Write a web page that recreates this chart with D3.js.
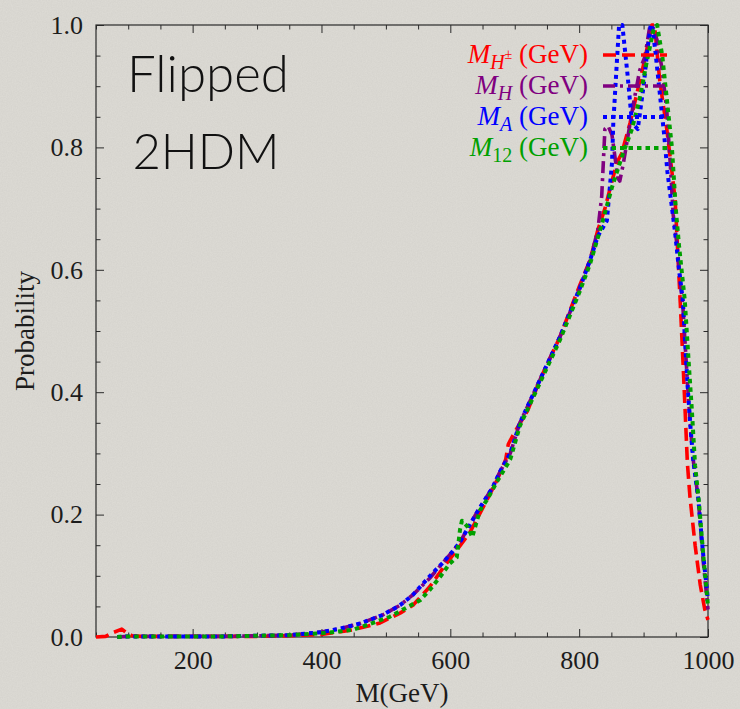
<!DOCTYPE html>
<html><head><meta charset="utf-8">
<script src="https://cdn.jsdelivr.net/npm/d3@7"></script>
<style>html,body{margin:0;padding:0;background:#dcdad4;}svg{display:block;}</style>
</head><body>
<svg id="chart" width="740" height="709"></svg>
<script>
// ---------- data (M in GeV, probability) ----------
const redSeries = [[50,0],[65,0.001],[75,0.0065],[90,0.013],[96,0.008],[106,0.002],[120,0.001],[200,0.001],[300,0.001],[350,0.002],[400,0.004],[450,0.012],[491,0.023],[522,0.039],[542,0.052],[568,0.082],[589,0.113],[610,0.142],[630,0.17],[650,0.21],[672,0.255],[686,0.29],[690,0.315],[700,0.335],[720,0.37],[739,0.42],[770,0.49],[790,0.545],[801,0.575],[817,0.616],[829,0.665],[840,0.70],[851,0.745],[859,0.776],[866,0.79],[879,0.84],[890,0.89],[900,0.935],[913,1.0],[917,1.0],[925,0.91],[936,0.83],[944,0.76],[949,0.714],[953,0.63],[957,0.545],[962,0.43],[968,0.284],[972,0.229],[980,0.15],[988,0.085],[995,0.045],[1000,0.028]];
const purpleSeries = [[83,0],[100,0.001],[150,0.001],[200,0.001],[250,0.001],[300,0.002],[350,0.003],[400,0.008],[430,0.014],[460,0.022],[495,0.036],[522,0.052],[542,0.069],[568,0.096],[589,0.122],[603,0.139],[615,0.155],[641,0.203],[666,0.245],[677,0.27],[693,0.30],[708,0.35],[739,0.42],[770,0.49],[801,0.57],[817,0.616],[829,0.665],[835,0.72],[840,0.83],[845,0.835],[851,0.82],[860,0.75],[863,0.745],[868,0.77],[884,0.87],[894,0.926],[902,0.948],[910,1.0],[915,0.995],[921,0.975],[929,0.926],[936,0.86],[941,0.78],[946,0.69],[952,0.64],[957,0.58],[961,0.54],[965,0.47],[969,0.40],[973,0.34],[977,0.29],[985,0.225],[992,0.13],[1000,0.045]];
const blueSeries = [[83,0],[100,0.001],[150,0.001],[200,0.001],[250,0.001],[300,0.002],[350,0.003],[400,0.008],[430,0.014],[460,0.022],[495,0.036],[522,0.052],[542,0.069],[573,0.105],[589,0.122],[603,0.139],[615,0.155],[641,0.203],[666,0.245],[677,0.27],[693,0.30],[708,0.35],[739,0.42],[770,0.49],[801,0.57],[817,0.616],[829,0.655],[843,0.68],[851,0.775],[853,0.84],[858,0.93],[862,1.0],[867,1.0],[875,0.92],[882,0.84],[891,0.83],[900,0.9],[906,0.96],[911,1.0],[913,1.0],[918,0.96],[922,0.92],[927,0.87],[932,0.82],[937,0.76],[943,0.71],[949,0.66],[955,0.60],[961,0.55],[965,0.47],[969,0.40],[973,0.34],[977,0.29],[985,0.225],[992,0.14],[1000,0.06]];
const greenSeries = [[83,0],[100,0.001],[150,0.001],[200,0.001],[250,0.001],[300,0.002],[350,0.003],[400,0.006],[450,0.012],[506,0.033],[553,0.06],[568,0.077],[584,0.098],[599,0.12],[610,0.13],[615,0.175],[618,0.19],[627,0.18],[634,0.163],[646,0.207],[657,0.224],[672,0.253],[693,0.29],[708,0.345],[739,0.415],[770,0.485],[801,0.565],[817,0.61],[834,0.67],[851,0.735],[868,0.79],[882,0.83],[894,0.88],[905,0.94],[915,0.99],[921,1.0],[929,0.95],[937,0.87],[941,0.83],[944,0.80],[950,0.70],[955,0.64],[960,0.59],[964,0.55],[970,0.45],[975,0.37],[980,0.28],[986,0.22],[993,0.13],[1000,0.05]];

const seriesNames = ["H\u00b1", "H", "A", "12"];
const seriesColors = ["#ff0000", "#800080", "#0000ff", "#00a000"];
const xMajorTicks = [200, 400, 600, 800, 1000];
const yMajorTicks = [0, 0.2, 0.4, 0.6, 0.8, 1.0];
const xMinorStep = 50;
const yMinorStep = 0.05;
const titleLines = ["Flipped", "2HDM"];
const xTitle = "M(GeV)";
const yTitle = "Probability";

// ---------- layout ----------
const W = 740, H = 709;
const plot = {left: 96, right: 708, top: 25, bottom: 637};
const svg = d3.select("#chart");

const x = d3.scaleLinear().domain([50, 1000]).range([plot.left, plot.right]);
const y = d3.scaleLinear().domain([0, 1]).range([plot.bottom, plot.top]);

// background with subtle paper texture
const defs = svg.append("defs");
const f = defs.append("filter").attr("id", "paper").attr("x", 0).attr("y", 0).attr("width", 1).attr("height", 1);
f.append("feTurbulence").attr("type", "fractalNoise").attr("baseFrequency", 0.8).attr("numOctaves", 2).attr("seed", 4);
f.append("feColorMatrix").attr("type", "matrix")
  .attr("values", "0 0 0 0 0.35  0 0 0 0 0.34  0 0 0 0 0.32  0.16 0 0 0 0");
defs.append("clipPath").attr("id", "clip").append("rect")
  .attr("x", plot.left - 2).attr("y", plot.top - 3)
  .attr("width", plot.right - plot.left + 4).attr("height", plot.bottom - plot.top + 6);

svg.append("rect").attr("width", W).attr("height", H).attr("fill", "#dedcd6");
svg.append("rect").attr("width", W).attr("height", H).attr("filter", "url(#paper)");

// ---------- frame & ticks ----------
const frameColor = "#2a2a2a";
const axes = svg.append("g");
const xMinor = d3.range(50, 1000.1, xMinorStep).filter(v => !xMajorTicks.includes(v));
const yMinor = d3.range(0, 1.0001, yMinorStep).map(v => +v.toFixed(2)).filter(v => !yMajorTicks.some(t => Math.abs(t - v) < 1e-6));

const xAxisB = d3.axisBottom(x).tickValues(xMajorTicks).tickSize(-8).tickPadding(14).tickFormat(d3.format("d"));
axes.append("g").attr("transform", `translate(0,${plot.bottom})`).call(xAxisB);
axes.append("g").attr("transform", `translate(0,${plot.top})`)
  .call(d3.axisTop(x).tickValues(xMajorTicks).tickSize(-8).tickFormat(""));
axes.append("g").attr("transform", `translate(0,${plot.bottom})`)
  .call(d3.axisBottom(x).tickValues(xMinor).tickSize(-4.5).tickFormat(""));
axes.append("g").attr("transform", `translate(0,${plot.top})`)
  .call(d3.axisTop(x).tickValues(xMinor).tickSize(-4.5).tickFormat(""));

const yAxisL = d3.axisLeft(y).tickValues(yMajorTicks).tickSize(-8).tickPadding(13).tickFormat(d3.format(".1f"));
axes.append("g").attr("transform", `translate(${plot.left},0)`).call(yAxisL);
axes.append("g").attr("transform", `translate(${plot.right},0)`)
  .call(d3.axisRight(y).tickValues(yMajorTicks).tickSize(-8).tickFormat(""));
axes.append("g").attr("transform", `translate(${plot.left},0)`)
  .call(d3.axisLeft(y).tickValues(yMinor).tickSize(-4.5).tickFormat(""));
axes.append("g").attr("transform", `translate(${plot.right},0)`)
  .call(d3.axisRight(y).tickValues(yMinor).tickSize(-4.5).tickFormat(""));

axes.selectAll(".domain").remove();
axes.selectAll(".tick line").attr("stroke", frameColor).attr("stroke-width", 1);
axes.selectAll(".tick text")
  .attr("fill", "#1c1c1c").attr("font-family", "'Liberation Serif', 'DejaVu Serif', serif").attr("font-size", 26);

svg.append("rect").attr("x", plot.left).attr("y", plot.top)
  .attr("width", plot.right - plot.left).attr("height", plot.bottom - plot.top)
  .attr("fill", "none").attr("stroke", frameColor).attr("stroke-width", 1.2);

// ---------- curves ----------
const line = d3.line().x(d => x(d[0])).y(d => y(d[1])).curve(d3.curveLinear);
const seriesData = [redSeries, purpleSeries, blueSeries, greenSeries];
const dashes = ["13,6", "12,5,3,5", "4,4", "4.5,4"];
const widths = [3.6, 3.6, 4, 4];
const curves = svg.append("g").attr("clip-path", "url(#clip)");
seriesData.forEach((s, i) => {
  curves.append("path").datum(s).attr("d", line)
    .attr("fill", "none").attr("stroke", seriesColors[i])
    .attr("stroke-width", widths[i]).attr("stroke-dasharray", dashes[i])
    .attr("stroke-linejoin", "round");
});

// ---------- legend ----------
const legendY = [55, 86, 117, 148];
const lg = svg.append("g");
seriesNames.forEach((name, i) => {
  lg.append("line").attr("x1", 603).attr("x2", 667).attr("y1", legendY[i]).attr("y2", legendY[i])
    .attr("stroke", seriesColors[i]).attr("stroke-width", widths[i]).attr("stroke-dasharray", dashes[i]);
  const t = lg.append("text").attr("x", 588).attr("y", legendY[i] + 8).attr("text-anchor", "end")
    .attr("fill", seriesColors[i]).attr("font-family", "'Liberation Serif', serif").attr("font-size", 27);
  t.append("tspan").attr("font-style", "italic").text("M");
  if (name === "H\u00b1") {
    t.append("tspan").attr("font-style", "italic").attr("font-size", 20).attr("dy", 6).text("H");
    t.append("tspan").attr("font-size", 14).attr("dy", -10).text("\u00b1");
    t.append("tspan").attr("dy", 4).text(" (GeV)");
  } else if (name === "12") {
    t.append("tspan").attr("font-size", 20).attr("dy", 6).text("12");
    t.append("tspan").attr("dy", -6).text(" (GeV)");
  } else {
    t.append("tspan").attr("font-style", "italic").attr("font-size", 20).attr("dy", 6).text(name);
    t.append("tspan").attr("dy", -6).text(" (GeV)");
  }
});

// ---------- titles ----------
svg.append("text").attr("x", 208).attr("y", 92).attr("text-anchor", "middle")
  .attr("font-family", "Lato, 'Open Sans', sans-serif").attr("font-weight", 300).attr("font-size", 51)
  .attr("fill", "#111").text(titleLines[0]);
svg.append("text").attr("x", 206).attr("y", 169).attr("text-anchor", "middle")
  .attr("font-family", "Lato, 'Open Sans', sans-serif").attr("font-weight", 300).attr("font-size", 49)
  .attr("fill", "#111").text(titleLines[1]);

svg.append("text").attr("x", (plot.left + plot.right) / 2).attr("y", 702).attr("text-anchor", "middle")
  .attr("font-family", "'Liberation Serif', serif").attr("font-size", 27).attr("fill", "#1c1c1c").text(xTitle);
svg.append("text").attr("transform", `translate(34,331) rotate(-90)`).attr("text-anchor", "middle")
  .attr("font-family", "'Liberation Serif', serif").attr("font-size", 27).attr("fill", "#1c1c1c").text(yTitle);
</script>
</body></html>
